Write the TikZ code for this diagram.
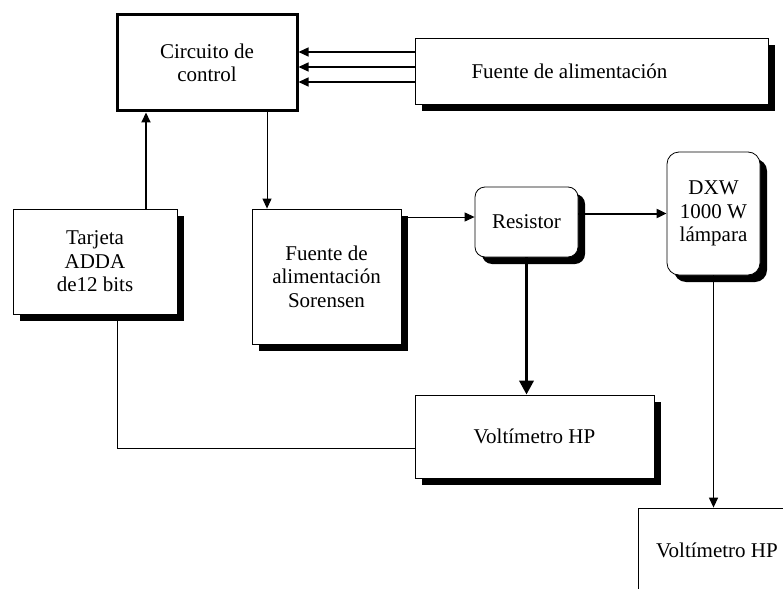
\documentclass[tikz,border=0pt]{standalone}
\usepackage{fontspec}
\setmainfont{Liberation Serif}
\usetikzlibrary{arrows.meta,shadows}

\begin{document}
\begin{tikzpicture}[x=1pt,y=-1pt,font=\fontsize{21}{23.5}\selectfont,
  >={Triangle[length=10pt,width=9pt]},
  blk/.style={draw=black,fill=white,line width=0.8pt,align=center,inner sep=2pt,
              drop shadow={shadow xshift=7pt,shadow yshift=-7pt,fill=black,opacity=1}},
  rblk/.style={blk,rounded corners=10pt},
  ctl/.style={draw=black,fill=white,line width=3pt,align=center},
  w/.style={->,draw=black,line width=1pt}]

  \clip (0,0) rectangle (783,588);
  \fill[white] (0,0) rectangle (783,588);

  % control and supply
  \node[ctl,minimum width=180pt,minimum height=96pt] (ctrl) at (207,63) {Circuito de\\control};
  \node[blk,minimum width=353pt,minimum height=66pt] (fuente) at (591.5,71)
    {\makebox[240pt][l]{Fuente de alimentación}};

  % middle row
  \node[blk,minimum width=164pt,minimum height=105pt] (tarj) at (95,261.5) {Tarjeta\\ADDA\\de12 bits};
  \node[blk,minimum width=149pt,minimum height=135pt] (sor) at (326.5,276.5)
    {Fuente de\\alimentación\\Sorensen};
  \node[rblk,minimum width=103pt,minimum height=70pt] (res) at (526.5,222) {Resistor};
  \node[rblk,rounded corners=12pt,minimum width=93pt,minimum height=123pt] (dxw) at (713.5,213.5)
    {DXW\\1000 W\\lámpara};

  % meters
  \node[blk,minimum width=239pt,minimum height=83pt] (volt) at (534.5,436.5) {Voltímetro HP};
  \node[blk,minimum width=158pt,minimum height=84pt] (volt2) at (717,550) {Voltímetro HP};

  \foreach \yy in {52,67,82}
    \draw[w,line width=1.3pt] (fuente.west |- 0,\yy) -- (ctrl.east |- 0,\yy);

  \coordinate (tj) at ([xshift=51pt]tarj.north);
  \draw[w,line width=2pt] (tj) -- (tj |- ctrl.south);
  \coordinate (cs) at ([xshift=60pt]ctrl.south);
  \draw[w] (cs) -- (cs |- sor.north);
  \coordinate (rin) at ([yshift=5pt]res.west);
  \draw[w] (rin -| sor.east) -- (rin);
  \draw[w,line width=2pt] (res.east |- dxw.west) -- (dxw.west);
  \draw[w,line width=3.5pt,-{Triangle[length=14pt,width=14pt]}] (res.south) -- (res.south |- volt.north);
  \draw[w,line width=1.3pt] (dxw.south) -- (dxw.south |- volt2.north);
  \coordinate (tv) at ([xshift=22pt]tarj.south);
  \coordinate (vin) at ([yshift=-12pt]volt.west);
  \draw[line width=1pt] (tv) |- (vin);
\end{tikzpicture}
\end{document}
